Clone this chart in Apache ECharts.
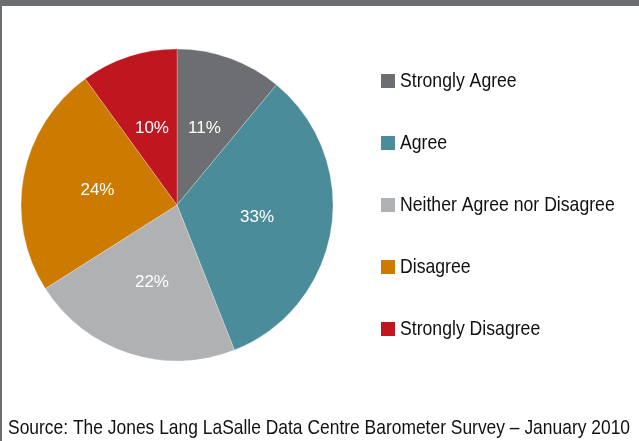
<!DOCTYPE html>
<html>
<head>
<meta charset="utf-8">
<script src="https://cdn.jsdelivr.net/npm/echarts@6/dist/echarts.min.js"></script>
<style>
  html, body { margin: 0; padding: 0; background: #fff; }
  #chart { width: 639px; height: 441px; }
</style>
</head>
<body>
<div id="chart"></div>
<script>
// Survey responses (percent of respondents)
const categories = ['Strongly Agree', 'Agree', 'Neither Agree nor Disagree', 'Disagree', 'Strongly Disagree'];
const shares = [11, 33, 22, 24, 10];
const colors = ['#6d6e72', '#4a8c9a', '#b0b1b3', '#cc7a00', '#c0161f'];
const sourceNote = 'Source: The Jones Lang LaSalle Data Centre Barometer Survey \u2013 January 2010';

const FONT = '"Liberation Sans", Arial, sans-serif';
// Narrow-looking type: regular face squeezed horizontally
const SQUEEZE = 0.84;

const chart = echarts.init(document.getElementById('chart'), null, { renderer: 'canvas' });

// Legend drawn as a column of swatches and condensed labels
const legendX = 381, legendY0 = 81, legendStep = 62, swatch = 14;
const legendGraphics = [];
categories.forEach((name, i) => {
  const cy = legendY0 + i * legendStep;
  legendGraphics.push({
    type: 'rect',
    shape: { x: legendX, y: cy - swatch / 2, width: swatch, height: swatch },
    style: { fill: colors[i] }
  });
  legendGraphics.push({
    type: 'text',
    x: legendX + 19,
    y: cy,
    scaleX: SQUEEZE,
    style: {
      text: name, fontFamily: FONT, fontSize: 21, fill: '#111',
      textAlign: 'left', textVerticalAlign: 'middle'
    }
  });
});

chart.setOption({
  animation: false,
  backgroundColor: '#fff',
  color: colors,
  series: [{
    type: 'pie',
    center: [177, 205],
    radius: [0, 156],
    startAngle: 90,
    clockwise: true,
    avoidLabelOverlap: false,
    itemStyle: { borderColor: 'rgba(255,255,255,0.5)', borderWidth: 0.5 },
    label: {
      show: true,
      position: 'inside',
      formatter: '{c}%',
      color: '#fff',
      fontFamily: FONT,
      fontSize: 17
    },
    labelLine: { show: false },
    emphasis: { disabled: true },
    data: categories.map((name, i) => ({ name, value: shares[i] }))
  }],
  graphic: [
    { type: 'rect', shape: { x: 0, y: 0, width: 639, height: 6 }, style: { fill: '#6d6e72' } },
    { type: 'rect', shape: { x: 0, y: 0, width: 2, height: 441 }, style: { fill: '#6d6e72' } },
    ...legendGraphics,
    {
      type: 'text',
      x: 8,
      y: 428,
      scaleX: 0.83,
      style: {
        text: sourceNote, fontFamily: FONT, fontSize: 21, fill: '#111',
        textAlign: 'left', textVerticalAlign: 'middle'
      }
    }
  ]
});
</script>
</body>
</html>
